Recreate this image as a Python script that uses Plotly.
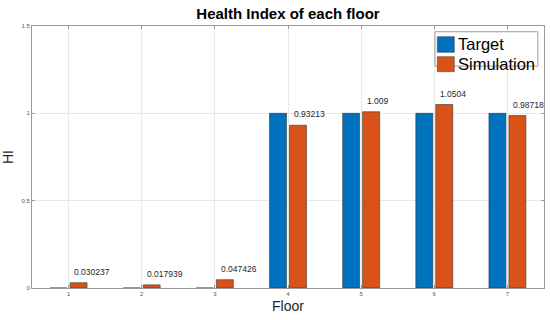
import plotly.graph_objects as go

floors = [1, 2, 3, 4, 5, 6, 7]
series_names = ["Target", "Simulation"]
target = [0, 0, 0, 1, 1, 1, 1]
simulation = [0.030237, 0.017939, 0.047426, 0.93213, 1.009, 1.0504, 0.98718]
sim_labels = ["0.030237", "0.017939", "0.047426", "0.93213", "1.009", "1.0504", "0.98718"]
y_ticks = [0, 0.5, 1, 1.5]
y_tick_labels = ["0", "0.5", "1", "1.5"]

BLUE = "#0072BD"
ORANGE = "#D95319"
EDGE = "#333333"
FONT = "Arial, Liberation Sans"

fig = go.Figure()
fig.add_trace(go.Bar(x=floors, y=target, name=series_names[0],
                     marker=dict(color=BLUE, line=dict(color=EDGE, width=0.6)), showlegend=False))
fig.add_trace(go.Bar(x=floors, y=simulation, name=series_names[1],
                     marker=dict(color=ORANGE, line=dict(color=EDGE, width=0.6)), showlegend=False))

for f, v, t in zip(floors, simulation, sim_labels):
    fig.add_annotation(x=f + 0.05, y=v, text=t, showarrow=False, xanchor="left", yanchor="bottom",
                       yshift=4, font=dict(family=FONT, size=8.5, color="#262626"))

# legend box (MATLAB style) in plot-area (paper) coordinates
fig.add_shape(type="rect", xref="paper", yref="paper", x0=0.787, x1=0.988, y0=0.847, y1=0.978,
              fillcolor="white", line=dict(color="#9a9a9a", width=1), layer="above")
swatch_y = [(0.8996, 0.9592), (0.8256, 0.8828)]
text_y = [0.9294, 0.8542]
for name, col, (y0, y1), ty in zip(series_names, [BLUE, ORANGE], swatch_y, text_y):
    fig.add_shape(type="rect", xref="paper", yref="paper", x0=0.7916, x1=0.8248, y0=y0, y1=y1,
                  fillcolor=col, line=dict(color=EDGE, width=0.5), layer="above")
    fig.add_annotation(xref="paper", yref="paper", x=0.8285, y=ty, text=name, showarrow=False,
                       xanchor="left", yanchor="middle", font=dict(family=FONT, size=16.5, color="black"))

axis_common = dict(showline=True, linecolor="#9a9a9a", linewidth=1, mirror="ticks",
                   ticks="inside", ticklen=3, tickcolor="#9a9a9a", automargin=False,
                   showgrid=True, gridcolor="#e8e8e8", gridwidth=1, zeroline=False,
                   tickfont=dict(family=FONT, size=6, color="#555555"))

fig.update_layout(
    width=550, height=320,
    margin=dict(l=32, r=6, t=26, b=32, autoexpand=False),
    paper_bgcolor="white", plot_bgcolor="white",
    barmode="group", bargap=0.454, bargroupgap=0.15,
    showlegend=False,
    title=dict(text="<b>Health Index of each floor</b>", x=0.5, xanchor="center", xref="paper",
               y=1 - 14 / 320, yanchor="middle",
               font=dict(family=FONT, size=15, color="black")),
    xaxis=dict(range=[0.5, 7.5], tickvals=floors, ticktext=[str(f) for f in floors],
               title=dict(text="Floor", standoff=4, font=dict(family=FONT, size=14, color="#262626")),
               **axis_common),
    yaxis=dict(range=[0, 1.5], tickvals=y_ticks, ticktext=y_tick_labels,
               title=dict(text="HI", standoff=8, font=dict(family=FONT, size=14, color="#262626")),
               **axis_common),
)

fig.write_html("out.html", config={"displayModeBar": False},
               post_script="document.body.style.margin='0';")
